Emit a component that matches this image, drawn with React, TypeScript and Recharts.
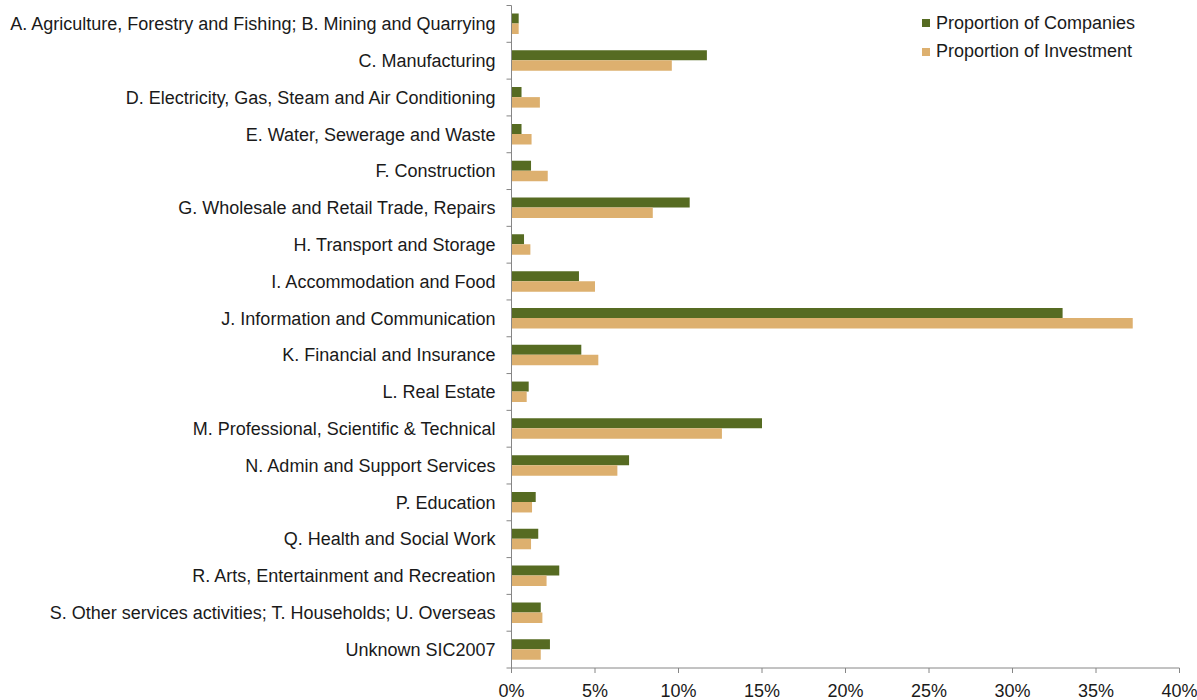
import { Bar, BarChart, Legend, XAxis, YAxis } from 'recharts';

const CATEGORIES = [
  'A. Agriculture, Forestry and Fishing; B. Mining and Quarrying',
  'C. Manufacturing',
  'D. Electricity, Gas, Steam and Air Conditioning',
  'E. Water, Sewerage and Waste',
  'F. Construction',
  'G. Wholesale and Retail Trade, Repairs',
  'H. Transport and Storage',
  'I. Accommodation and Food',
  'J. Information and Communication',
  'K. Financial and Insurance',
  'L. Real Estate',
  'M. Professional, Scientific & Technical',
  'N. Admin and Support Services',
  'P. Education',
  'Q. Health and Social Work',
  'R. Arts, Entertainment and Recreation',
  'S. Other services activities; T. Households; U. Overseas',
  'Unknown SIC2007',
];

const COMPANIES = [0.43, 11.7, 0.6, 0.6, 1.17, 10.67, 0.75, 4.04, 33.0, 4.18, 1.03, 15.0, 7.04, 1.45, 1.6, 2.86, 1.75, 2.3];
const INVESTMENT = [0.43, 9.6, 1.7, 1.2, 2.17, 8.46, 1.13, 5.0, 37.2, 5.2, 0.91, 12.6, 6.34, 1.23, 1.17, 2.1, 1.85, 1.75];

const X_TICKS = [0, 5, 10, 15, 20, 25, 30, 35, 40];

const GREEN = '#566B22';
const TAN = '#DDB06F';
const AXIS = '#868686';
const TEXT = '#1a1a1a';
const FONT = '"Liberation Sans", Arial, sans-serif';

const rows = CATEGORIES.map((name, i) => ({
  name,
  companies: COMPANIES[i],
  investment: INVESTMENT[i],
}));

const TICK_SIZE = 5;
const TICK_MARGIN = 11;

// category label plus a tick mark at the band boundaries (like Excel)
function CategoryTick(props: any) {
  const { x, y, payload, index } = props;
  const half = payload?.offset ?? 18.4;
  const ax = x + TICK_MARGIN + TICK_SIZE;
  const last = index === CATEGORIES.length - 1;
  return (
    <g>
      <line x1={ax - TICK_SIZE} x2={ax} y1={y - half} y2={y - half} stroke={AXIS} />
      {last && <line x1={ax - TICK_SIZE} x2={ax} y1={y + half} y2={y + half} stroke={AXIS} />}
      <text x={x} y={y} dy="0.35em" textAnchor="end" fill={TEXT} fontSize={18} fontFamily={FONT}>
        {payload.value}
      </text>
    </g>
  );
}

function LegendBox({ payload }: any) {
  return (
    <div style={{ fontFamily: FONT, fontSize: 18, color: TEXT, textAlign: 'left' }}>
      {(payload || []).map((p: any) => (
        <div key={p.value} style={{ display: 'flex', alignItems: 'center', height: 28.5 }}>
          <span style={{ width: 8, height: 8, background: p.color, marginRight: 6, display: 'inline-block' }} />
          <span>{p.value}</span>
        </div>
      ))}
    </div>
  );
}

export default function App() {
  return (
    <div style={{ position: 'absolute', left: 0, top: 0, background: '#fff' }}>
      <BarChart
        width={1197}
        height={700}
        data={rows}
        layout="vertical"
        margin={{ top: 5.5, right: 17.5, bottom: 0, left: 0 }}
        barGap={0}
      >
        <XAxis
          type="number"
          domain={[0, 40]}
          ticks={X_TICKS}
          tickFormatter={(v) => `${v}%`}
          stroke={AXIS}
          tickSize={TICK_SIZE}
          tickMargin={11}
          height={32}
          tick={{ fill: TEXT, fontSize: 18, fontFamily: FONT }}
          interval={0}
        />
        <YAxis
          type="category"
          dataKey="name"
          width={511.5}
          stroke={AXIS}
          tickLine={false}
          tickSize={TICK_SIZE}
          tickMargin={TICK_MARGIN}
          interval={0}
          tick={<CategoryTick />}
        />
        <Legend
          layout="vertical"
          verticalAlign="middle"
          align="center"
          wrapperStyle={{ top: 9, left: 922, width: 260 }}
          content={<LegendBox />}
        />
        <Bar dataKey="companies" name="Proportion of Companies" fill={GREEN} barSize={10} isAnimationActive={false} />
        <Bar dataKey="investment" name="Proportion of Investment" fill={TAN} barSize={10.5} isAnimationActive={false} />
      </BarChart>
    </div>
  );
}
